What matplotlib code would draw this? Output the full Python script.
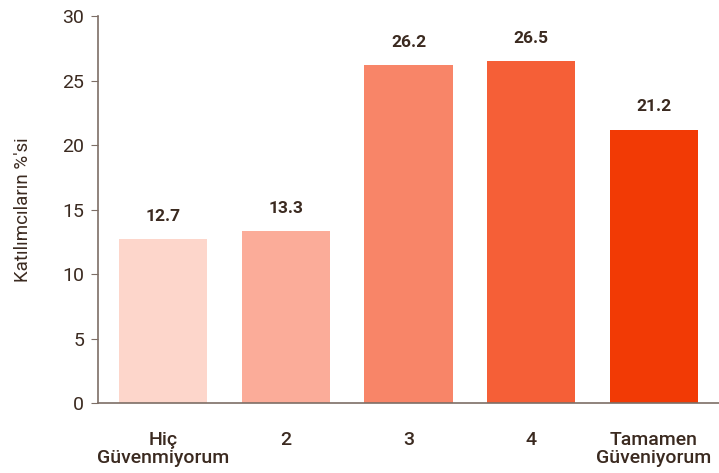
import matplotlib
matplotlib.use("Agg")
import matplotlib.pyplot as plt

categories = ["Hiç\nGüvenmiyorum", "2", "3", "4", "Tamamen\nGüveniyorum"]
values = [12.7, 13.3, 26.2, 26.5, 21.2]
colors = ["#fdd6cb", "#fbac99", "#f88568", "#f55f37", "#f23a05"]

text_color = "#3b2a20"
spine_color = "#7d6e66"

plt.rcParams["font.family"] = ["Roboto", "DejaVu Sans"]

fig = plt.figure(figsize=(7.19, 4.73), dpi=100)
ax = fig.add_axes([0.1363, 0.148, 0.8637, 0.818])

x = list(range(len(categories)))
bars = ax.bar(x, values, width=0.72, color=colors)

for xi, v in zip(x, values):
    ax.text(xi, v + 1.2, f"{v}", ha="center", va="bottom",
            fontsize=12.5, fontweight="bold", color=text_color)

ax.set_xlim(-0.53, 4.53)
ax.set_ylim(0, 30)
ax.set_yticks(range(0, 31, 5))
ax.set_xticks(x)
ax.set_xticklabels(categories, fontsize=14, fontweight="medium", color=text_color,
                   linespacing=1.0)
ax.tick_params(axis="x", length=0, pad=20)
ax.tick_params(axis="y", length=5, color=spine_color, labelsize=14,
               labelcolor=text_color, pad=5)

ax.set_ylabel("Katılımcıların %'si", fontsize=13.5, color=text_color, labelpad=22)

for side in ["top", "right"]:
    ax.spines[side].set_visible(False)
for side in ["left", "bottom"]:
    ax.spines[side].set_color(spine_color)
    ax.spines[side].set_linewidth(1.2)

fig.savefig("out.png", dpi=100)
